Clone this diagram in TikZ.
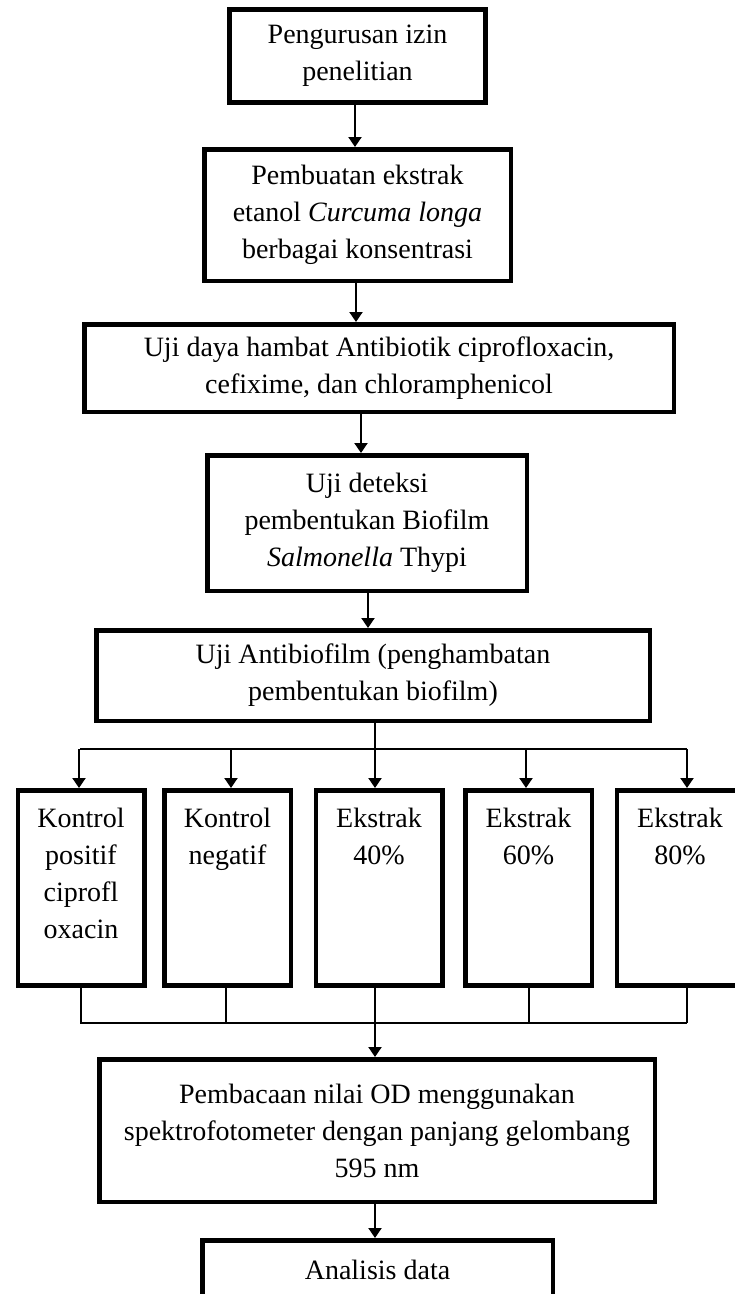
\documentclass[tikz,border=0pt]{standalone}
\usepackage{fontspec}
\setmainfont{Liberation Serif}
\usetikzlibrary{arrows.meta,calc}

\newcommand{\toptext}[1]{\parbox[t][159pt][t]{122pt}{\centering #1}}

\begin{document}
\begin{tikzpicture}[
    x=1pt, y=1pt,
    box/.style={rectangle, draw, line width=4.5pt, inner sep=2pt, align=center, font=\fontsize{28}{37}\selectfont},
    smallbox/.style={box, anchor=north, inner ysep=18pt, minimum width=126.5pt},
    line/.style={draw, line width=2pt, -{Triangle[length=10pt,width=13pt]}},
    link/.style={draw, line width=2pt}
]
    \useasboundingbox (0,0) rectangle (735,-1294);
    \clip (0,0) rectangle (735,-1294);

    % Main steps
    \node[box, line width=5pt, minimum width=256pt, minimum height=93pt] (izin) at (357.5,-56) {Pengurusan izin\\penelitian};
    \node[box, minimum width=306.5pt, minimum height=131.5pt] (ekstrak) at (357.5,-215) {Pembuatan ekstrak\\etanol \textit{Curcuma longa}\\berbagai konsentrasi};
    \node[box, minimum width=589.5pt, minimum height=87.5pt] (uji) at (379,-368) {Uji daya hambat Antibiotik ciprofloxacin,\\cefixime, dan chloramphenicol};
    \node[box, minimum width=319.5pt, minimum height=135.5pt] (deteksi) at (367,-523) {Uji deteksi\\pembentukan Biofilm\\\textit{Salmonella} Thypi};
    \node[box, minimum width=553.5pt, minimum height=90.5pt] (antibiofilm) at (373,-675.5) {Uji Antibiofilm (penghambatan\\pembentukan biofilm)};

    \draw[line] ($(izin.south)+(-2.5,0)$) -- ($(ekstrak.north)+(-2.5,0)$);
    \draw[line] ($(ekstrak.south)+(-1.5,0)$) -- ($(uji.north)+(-23,0)$);
    \draw[line] ($(uji.south)+(-18,0)$) -- ($(deteksi.north)+(-6,0)$);
    \draw[line] ($(deteksi.south)+(1,0)$) -- ($(antibiofilm.north)+(-5,0)$);

    % Treatment groups
    \node[smallbox] (kpos) at (81,-788) {\toptext{Kontrol\\positif\\ciprofl\\oxacin}};
    \node[smallbox] (kneg) at (227.5,-788) {\toptext{Kontrol\\negatif}};
    \node[smallbox] (e40) at (379,-788) {\toptext{Ekstrak\\40\%}};
    \node[smallbox] (e60) at (528.5,-788) {\toptext{Ekstrak\\60\%}};
    \node[smallbox] (e80) at (680,-788) {\toptext{Ekstrak\\80\%}};

    % Split
    \coordinate (split) at (375,-749);
    \coordinate (splitL) at (80,-749);
    \coordinate (splitR) at (687,-749);
    \draw[link] ($(antibiofilm.south)+(2,0)$) -- (split);
    \draw[link] (splitL) -- (splitR);
    \foreach \n/\dx in {kpos/-2, kneg/3.5, e40/-4, e60/-2.5, e80/7} {
        \draw[line] ($(\n.north)+(\dx,39)$) -- ($(\n.north)+(\dx,0)$);
    }

    % Join
    \coordinate (join) at (375,-1023);
    \coordinate (joinL) at (80,-1023);
    \coordinate (joinR) at (687,-1023);
    \foreach \n/\dx in {kpos/0, kneg/-1.5, e40/-4, e60/0.5, e80/7} {
        \draw[link] ($(\n.south)+(\dx,0)$) -- ++(0,-35.5);
    }
    \draw[link] (joinL) -- (joinR);

    % Final steps
    \node[box, minimum width=555.5pt, minimum height=142.5pt] (baca) at (377,-1130.5) {Pembacaan nilai OD menggunakan\\spektrofotometer dengan panjang gelombang\\595 nm};
    \node[box, minimum width=350.5pt, minimum height=59.5pt] (analisis) at (377.5,-1270) {Analisis data};

    \draw[line] (join) -- (join |- baca.north);
    \draw[line] (baca.south -| join) -- (analisis.north -| join);

\end{tikzpicture}
\end{document}
